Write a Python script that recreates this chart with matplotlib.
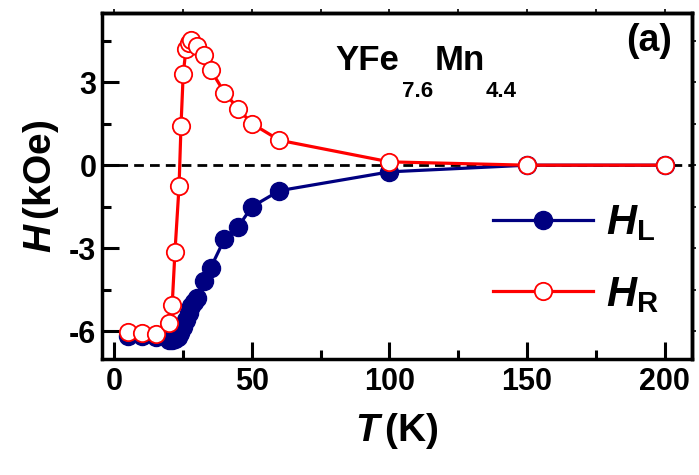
import matplotlib
matplotlib.use("Agg")
import matplotlib.pyplot as plt
from matplotlib.ticker import MultipleLocator

plt.rcParams['font.family'] = ['Liberation Sans', 'DejaVu Sans']
plt.rcParams['font.weight'] = 'bold'
plt.rcParams['axes.unicode_minus'] = False
plt.rcParams['mathtext.fontset'] = 'custom'
plt.rcParams['mathtext.rm'] = 'Liberation Sans:bold'
plt.rcParams['mathtext.it'] = 'Liberation Sans:italic:bold'
plt.rcParams['mathtext.bf'] = 'Liberation Sans:bold'

# Data
T_L = [5, 10, 15, 20, 21, 22, 23, 24, 25, 26, 27, 28, 29, 30, 32.5, 35, 40, 45, 50, 60, 100, 150, 200]
H_L = [-6.15, -6.18, -6.22, -6.3, -6.3, -6.28, -6.2, -6.05, -5.85, -5.6, -5.35, -5.1, -4.95, -4.78,
       -4.18, -3.7, -2.67, -2.22, -1.5, -0.92, -0.24, 0.0, 0.0]
T_R = [5, 10, 15, 20, 21, 22, 23.5, 24.2, 25, 26, 27, 28, 30, 32.5, 35, 40, 45, 50, 60, 100, 150, 200]
H_R = [-6.02, -6.05, -6.09, -5.70, -5.04, -3.14, -0.75, 1.41, 3.28, 4.18, 4.40, 4.52, 4.32, 3.96,
       3.44, 2.62, 2.04, 1.50, 0.90, 0.12, 0.0, 0.0]
x_ticks = [0, 50, 100, 150, 200]
y_ticks = [-6, -3, 0, 3]

fig = plt.figure(figsize=(6.99, 4.75), dpi=100)
ax = fig.add_axes([0.146, 0.244, 0.844, 0.729])

navy = '#000080'
red = '#ff0000'

ax.axhline(0, color='black', lw=2.0, ls=(0, (3.5, 2.2)), zorder=1)
ax.plot(T_L, H_L, '-o', color=navy, lw=2.3, markersize=13, markerfacecolor=navy,
        markeredgecolor=navy, label=r'$H_{\rm L}$', zorder=2)
ax.plot(T_R, H_R, '-o', color=red, lw=2.3, markersize=12.5, markerfacecolor='white',
        markeredgecolor=red, markeredgewidth=1.3, label=r'$H_{\rm R}$', zorder=3)

ax.set_xlim(-4.5, 210)
ax.set_ylim(-7, 5.5)
ax.set_xticks(x_ticks)
ax.set_yticks(y_ticks)
ax.xaxis.set_minor_locator(MultipleLocator(25))
ax.yaxis.set_minor_locator(MultipleLocator(1.5))
ax.tick_params(which='major', direction='in', length=12, width=2.2, labelsize=22, pad=6)
ax.tick_params(which='minor', direction='in', length=6.5, width=2.2)
ax.tick_params(axis='y', pad=4)
for s in ax.spines.values():
    s.set_linewidth(2.5)

# top/right small outward ticks
sx = ax.secondary_xaxis('top')
sx.xaxis.set_major_locator(MultipleLocator(25))
sx.tick_params(direction='out', length=3, width=1.2, labeltop=False)
sx.spines['top'].set_linewidth(2.5)
sy = ax.secondary_yaxis('right')
sy.yaxis.set_major_locator(MultipleLocator(1.5))
sy.tick_params(direction='out', length=3, width=1.2, labelright=False)
sy.spines['right'].set_linewidth(2.5)

ax.set_xlabel(r'$T\,$(K)', fontsize=28, fontweight='bold', labelpad=10)
ax.set_ylabel(r'$H\,$(kOe)', fontsize=28, fontweight='bold', labelpad=6)

ax.text(0.395, 0.835, 'YFe', transform=ax.transAxes, fontsize=25, fontweight='bold', va='baseline')
ax.text(0.508, 0.757, '7.6', transform=ax.transAxes, fontsize=16, fontweight='bold', va='baseline')
ax.text(0.564, 0.835, 'Mn', transform=ax.transAxes, fontsize=25, fontweight='bold', va='baseline')
ax.text(0.651, 0.757, '4.4', transform=ax.transAxes, fontsize=16, fontweight='bold', va='baseline')
ax.text(0.966, 0.919, '(a)', transform=ax.transAxes, fontsize=27, fontweight='bold', ha='right', va='center')

leg = ax.legend(loc='lower left', bbox_to_anchor=(0.635, 0.08), frameon=False, fontsize=30,
                handlelength=2.4, handletextpad=0.3, labelspacing=0.75, borderaxespad=0)

fig.savefig('out.png', dpi=100)
